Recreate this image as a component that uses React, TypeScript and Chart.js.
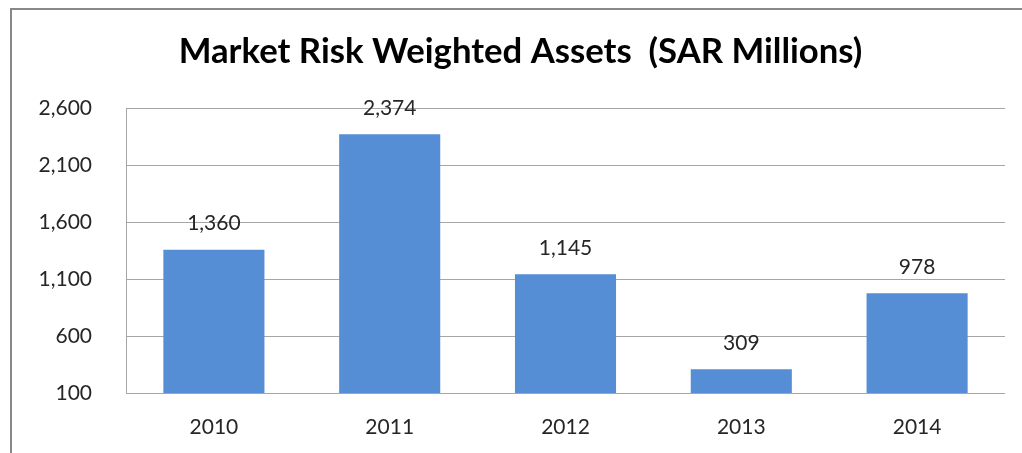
import React, { useEffect, useRef } from "react";
import { Chart, registerables } from "chart.js";

Chart.register(...registerables);

const categories = ["2010", "2011", "2012", "2013", "2014"];
const values = [1360, 2374, 1145, 309, 978];
const yTicks = [100, 600, 1100, 1600, 2100, 2600];
const titleText = "Market Risk Weighted Assets  (SAR Millions)";

const FONT = "Lato, 'Open Sans', sans-serif";
const fmt = (v: number) => v.toLocaleString("en-US");

const framePlugin = {
  id: "frame",
  beforeDraw(chart: any) {
    const ctx = chart.ctx;
    ctx.save();
    ctx.fillStyle = "#ffffff";
    ctx.fillRect(0, 0, chart.width, chart.height);
    ctx.strokeStyle = "#888888";
    ctx.lineWidth = 2;
    ctx.beginPath();
    ctx.moveTo(11, chart.height);
    ctx.lineTo(11, 9);
    ctx.lineTo(chart.width, 9);
    ctx.stroke();
    ctx.restore();
  },
};

const labelPlugin = {
  id: "barLabels",
  afterDatasetsDraw(chart: any) {
    const ctx = chart.ctx;
    const meta = chart.getDatasetMeta(0);
    ctx.save();
    ctx.font = `21px ${FONT}`;
    ctx.fillStyle = "#262626";
    ctx.textAlign = "center";
    ctx.textBaseline = "middle";
    meta.data.forEach((bar: any, i: number) => {
      ctx.fillText(fmt(values[i]), bar.x, bar.y - 26);
    });
    ctx.restore();
  },
};

export default function App() {
  const ref = useRef<HTMLCanvasElement | null>(null);
  useEffect(() => {
    if (!ref.current) return;
    const chart = new Chart(ref.current, {
      type: "bar",
      data: {
        labels: categories,
        datasets: [
          {
            data: values,
            backgroundColor: "#558ED5",
            borderWidth: 0,
            categoryPercentage: 1,
            barPercentage: 0.575,
          },
        ],
      },
      options: {
        animation: false,
        responsive: false,
        devicePixelRatio: 1,
        layout: { padding: { left: 36, right: 17, top: 0, bottom: 14 } },
        plugins: {
          legend: { display: false },
          tooltip: { enabled: false },
          title: {
            display: true,
            text: titleText,
            color: "#000000",
            font: { family: FONT, size: 34.7, weight: "bold", lineHeight: 1.2 },
            padding: { top: 31, bottom: 36 },
          },
        },
        scales: {
          x: {
            grid: { display: false, drawTicks: false },
            border: { display: false },
            afterFit(scale: any) {
              scale.height = 46;
            },
            ticks: {
              color: "#262626",
              font: { family: FONT, size: 21 },
              padding: 22,
              maxRotation: 0,
            },
          },
          y: {
            min: 100,
            max: 2600,
            afterBuildTicks(scale: any) {
              scale.ticks = yTicks.map((v) => ({ value: v }));
            },
            afterFit(scale: any) {
              scale.width = 90;
            },
            grid: { color: "#A6A6A6", lineWidth: 1, drawTicks: false },
            border: { display: true, color: "#A6A6A6", width: 1 },
            ticks: {
              color: "#262626",
              font: { family: FONT, size: 21 },
              padding: 34,
              callback: (v: any) => fmt(Number(v)),
            },
          },
        },
      },
      plugins: [framePlugin, labelPlugin],
    });
    return () => chart.destroy();
  }, []);
  return (
    <div style={{ position: "fixed", left: 0, top: 0, width: 1022, height: 453 }}>
      <canvas ref={ref} width={1022} height={453} style={{ display: "block" }} />
    </div>
  );
}
